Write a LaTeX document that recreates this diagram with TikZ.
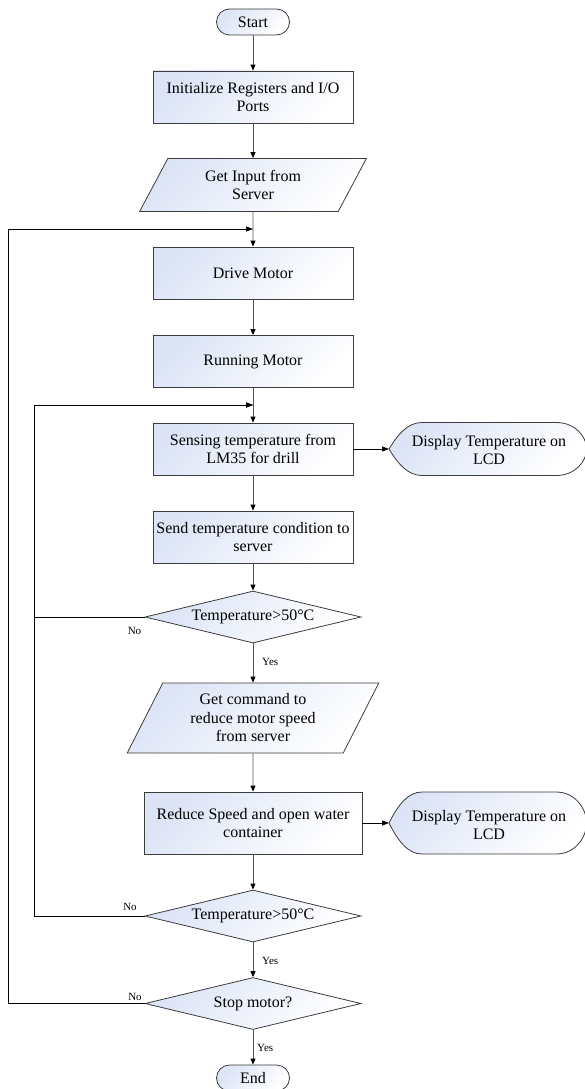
\documentclass[tikz,border=0pt]{standalone}
\usepackage{fontspec}
\setmainfont{Liberation Serif}
\usetikzlibrary{shapes.geometric,arrows.meta}
\definecolor{fillc}{RGB}{220,228,246}
\definecolor{edgec}{RGB}{60,60,60}
\definecolor{linec}{RGB}{85,85,85}
\begin{document}
\begin{tikzpicture}[x=1pt,y=-1pt,
  base/.style={draw=edgec, line width=0.8pt, top color=fillc, bottom color=white, shading angle=45,
    font=\fontsize{16}{18.5}\selectfont, align=center, inner sep=2pt},
  procbox/.style={base, rectangle, minimum width=200pt, minimum height=52pt},
  termbox/.style={base, rectangle, rounded corners=13pt, minimum width=73pt, minimum height=26pt},
  iobox/.style={base, trapezium, trapezium left angle=64, trapezium right angle=116, trapezium stretches=true},
  decbox/.style={base, diamond, aspect=4.2, inner sep=0pt, minimum width=216pt, minimum height=52pt},
  dispshape/.style={draw=edgec, line width=0.8pt, top color=fillc, bottom color=white, shading angle=45},
  disptxt/.style={font=\fontsize{16}{18.5}\selectfont, align=center, inner sep=0pt},
  conn/.style={draw=linec, line width=0.9pt, -{Triangle[length=6pt,width=5pt,color=black]}},
  loopline/.style={draw=black, line width=0.7pt, -{Triangle[length=7pt,width=5pt,color=black]}},
  lbl/.style={font=\fontsize{11}{13}\selectfont, inner sep=0pt}
]
\useasboundingbox (0,0) rectangle (584,1089);

% main column
\node[termbox] (start) at (253,22) {Start};
\node[procbox] (init) at (253,97) {Initialize Registers and I/O\\Ports};
\node[iobox, minimum width=227pt, minimum height=53pt] (input) at (253,185) {Get Input from\\Server};
\node[procbox] (drive) at (253,273) {Drive Motor};
\node[procbox] (run) at (253,361.5) {Running Motor};
\node[procbox] (sense) at (253,449) {Sensing temperature from\\LM35 for drill};
\node[procbox] (send) at (253,537) {Send temperature condition to\\server};
\node[decbox] (dia1) at (253,617) {Temperature>50\textdegree C};
\node[iobox, minimum width=252pt, minimum height=70pt] (cmd) at (253,718) {Get command to\\reduce motor speed\\from server};
\node[procbox, minimum width=218pt, minimum height=62pt] (reduce) at (253,823) {Reduce Speed and open water\\container};
\node[decbox] (dia2) at (253,916) {Temperature>50\textdegree C};
\node[decbox] (dia3) at (253,1003.5) {Stop motor?};
\node[termbox] (end) at (253,1078) {End};

% display shapes
\coordinate (d1) at (389,449);
\path[dispshape] (d1) .. controls (398,434) and (408,422.5) .. (422,422.5) -- (556,422.5)
  .. controls (575,422.5) and (586,436) .. (587,449)
  .. controls (586,462) and (575,475.5) .. (556,475.5) -- (422,475.5)
  .. controls (408,475.5) and (398,464) .. (d1) -- cycle;
\node[disptxt] (disp1) at (489,450) {Display Temperature on\\LCD};

\coordinate (d2) at (389,823);
\path[dispshape] (d2) .. controls (398,805) and (408,792) .. (422,792) -- (556,792)
  .. controls (575,792) and (586,808) .. (587,823)
  .. controls (586,838) and (575,854) .. (556,854) -- (422,854)
  .. controls (408,854) and (398,841) .. (d2) -- cycle;
\node[disptxt] (disp2) at (489,825) {Display Temperature on\\LCD};

% main connectors
\draw[conn] (start) -- (init);
\draw[conn] (init) -- (input);
\draw[conn] (input) -- (drive);
\draw[conn] (drive) -- (run);
\draw[conn] (run) -- (sense);
\draw[conn] (sense) -- (send);
\draw[conn] (send) -- (dia1);
\draw[conn] (dia1) -- (cmd);
\draw[conn] (cmd) -- (reduce);
\draw[conn] (reduce) -- (dia2);
\draw[conn] (dia2) -- (dia3);
\draw[conn] (dia3) -- (end);
\draw[loopline] (sense.east) -- (d1);
\draw[loopline] (reduce.east) -- (d2);

% loops
\coordinate (j1) at (253,229);
\coordinate (j2) at (253,405);
\draw[loopline] (dia3.west) -- ++(-136,0) |- (j1);
\draw[loopline] (dia1.west) -- ++(-110,0) |- (j2);
\draw[loopline] (dia2.west) -- ++(-110,0) |- (j2);

% labels
\node[lbl] (no1) at (134.5,631) {No};
\node[lbl] (no2) at (130,907) {No};
\node[lbl] (no3) at (135,997) {No};
\node[lbl, anchor=west] (yes1) at (262,662) {Yes};
\node[lbl, anchor=west] (yes2) at (262,961) {Yes};
\node[lbl, anchor=west] (yes3) at (257,1048) {Yes};
\end{tikzpicture}
\end{document}
